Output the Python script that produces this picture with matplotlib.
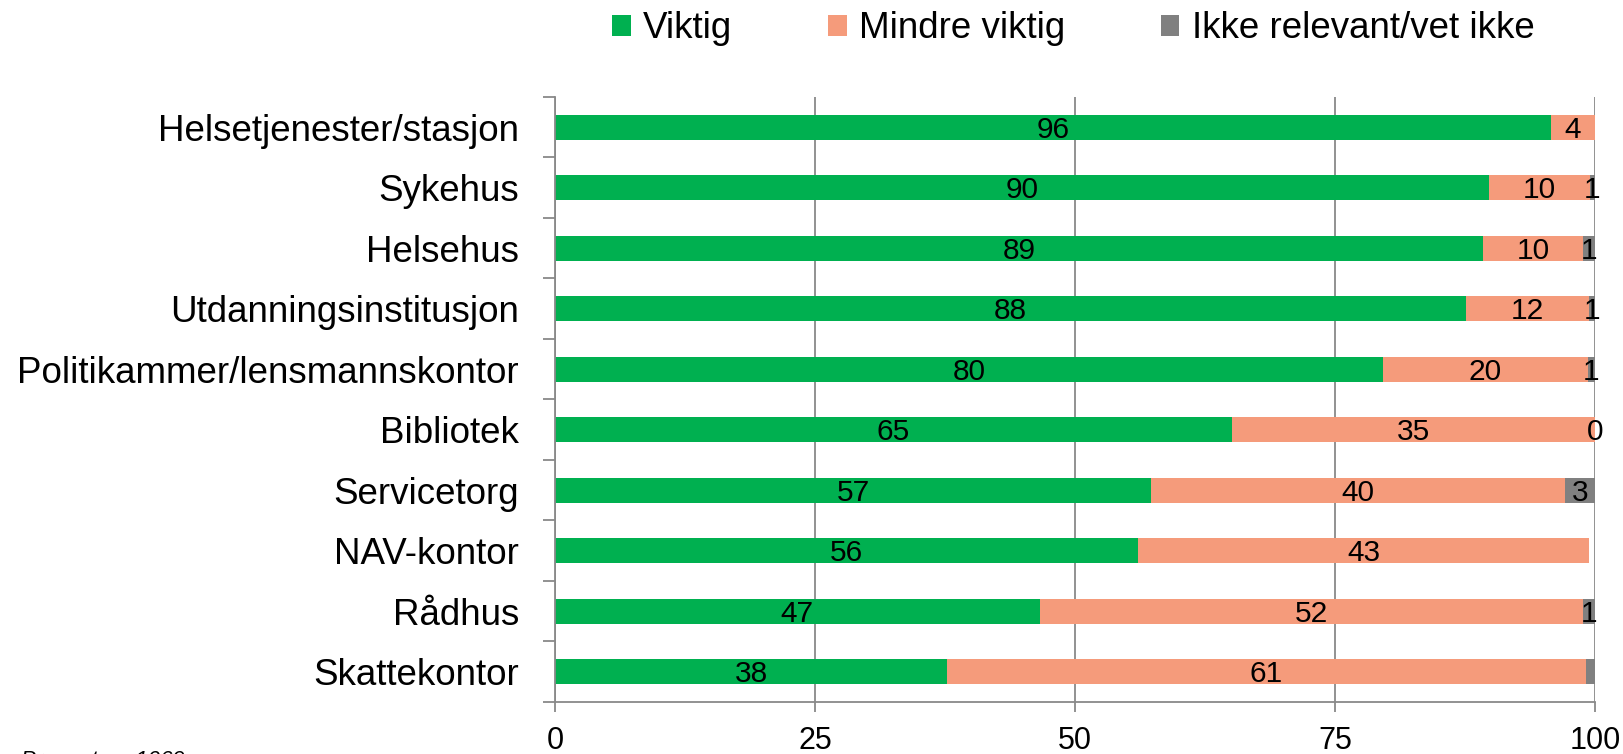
import matplotlib
matplotlib.use("Agg")
import matplotlib.pyplot as plt
import numpy as np

plt.rcParams['font.family'] = ['Liberation Sans', 'DejaVu Sans']

categories = ["Helsetjenester/stasjon", "Sykehus", "Helsehus", "Utdanningsinstitusjon",
              "Politikammer/lensmannskontor", "Bibliotek", "Servicetorg", "NAV-kontor",
              "Rådhus", "Skattekontor"]
viktig = [95.8, 89.8, 89.2, 87.6, 79.6, 65.1, 57.3, 56.1, 46.6, 37.7]
mindre = [4.2, 9.7, 9.7, 11.8, 19.7, 34.9, 39.8, 43.3, 52.3, 61.4]
ikke = [0.0, 0.5, 1.1, 0.6, 0.7, 0.0, 2.9, 0.0, 1.1, 1.1]
ikke_labels = ["", "1", "1", "1", "1", "0", "3", "", "1", ""]
series_names = ["Viktig", "Mindre viktig", "Ikke relevant/vet ikke"]
colors = ["#00B050", "#F59B7B", "#808080"]

fig = plt.figure(figsize=(16.24, 7.54), dpi=100)
ax = fig.add_axes([0.3418, 0.069, 0.6403, 0.8024])

y = np.arange(len(categories))
h = 0.41
b1 = ax.barh(y, viktig, height=h, color=colors[0], label=series_names[0])
b2 = ax.barh(y, mindre, height=h, left=viktig, color=colors[1], label=series_names[1])
left3 = np.array(viktig) + np.array(mindre)
b3 = ax.barh(y, ikke, height=h, left=left3, color=colors[2], label=series_names[2])

fs = 21.5
for i in range(len(categories)):
    ax.text(viktig[i] / 2, y[i] + 0.04, f"{round(viktig[i])}", ha='center', va='center', fontsize=fs)
    ax.text(viktig[i] + mindre[i] / 2, y[i] + 0.04, f"{round(mindre[i])}", ha='center', va='center', fontsize=fs)
    if ikke_labels[i]:
        ax.text(left3[i] + ikke[i] / 2, y[i] + 0.04, ikke_labels[i], ha='center', va='center',
                fontsize=fs, clip_on=False)

ax.set_xlim(0, 100)
ax.set_ylim(len(categories) - 0.5, -0.5)
ax.set_xticks([0, 25, 50, 75, 100])
ax.set_yticks(y)
ax.set_yticklabels(categories, fontsize=26.5)
ax.set_yticks(np.arange(-0.5, len(categories), 1), minor=True)
ax.tick_params(axis='y', which='major', length=0, pad=26)
ax.tick_params(axis='y', which='minor', length=9, width=1.3, color='#898989')
ax.tick_params(axis='x', labelsize=22, length=7, width=1.3, color='#898989', pad=10)
ax.grid(axis='x', color='#898989', linewidth=1.3)
ax.set_axisbelow(True)
for s in ['top', 'right']:
    ax.spines[s].set_visible(False)
for s in ['left', 'bottom']:
    ax.spines[s].set_color('#898989')
    ax.spines[s].set_linewidth(1.3)

fig.legend(handles=[b1, b2, b3], labels=series_names, loc='center', bbox_to_anchor=(0.661, 0.962),
           ncol=3, frameon=False, fontsize=26.5, handlelength=0.5, handleheight=0.5,
           handletextpad=0.34, columnspacing=2.6)

fig.text(185 / 1624, 1 - 750 / 754, "Prosent, n=1069", ha='right', va='top',
         fontsize=16, style='italic')

fig.savefig("out.png", dpi=100)
